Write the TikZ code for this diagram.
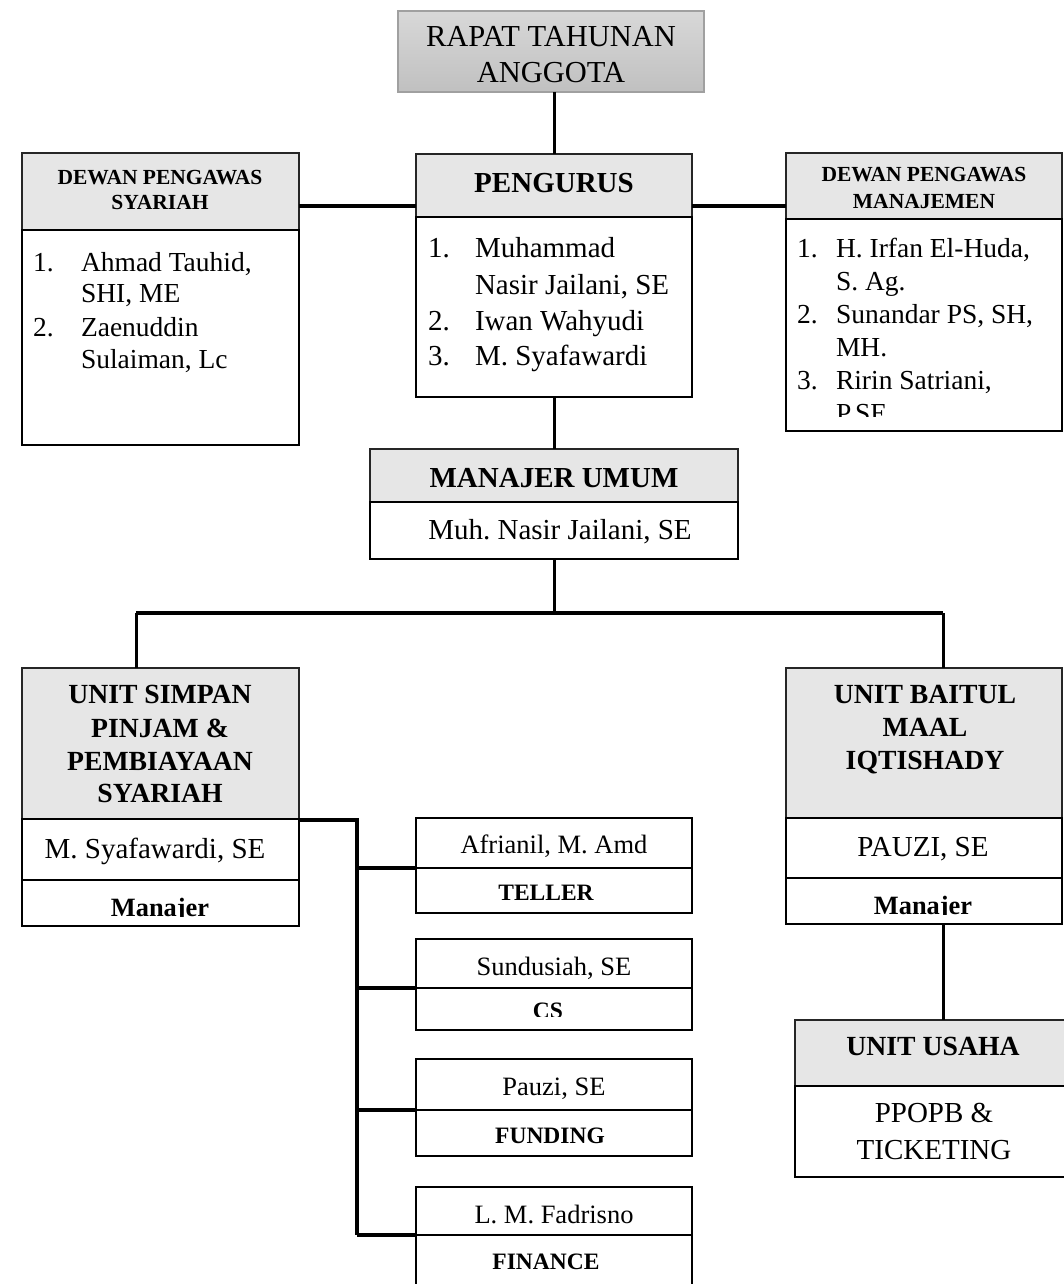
\documentclass[tikz,border=0pt]{standalone}
\usepackage{fontspec}
\setmainfont{Liberation Serif}
\definecolor{hdrgray}{RGB}{230,230,230}
\definecolor{topgray}{RGB}{216,216,216}
\definecolor{botgray}{RGB}{192,192,192}
\definecolor{rimgray}{RGB}{160,160,160}
\tikzset{
  hdr/.style={draw=black!85, line width=1.8pt, fill=hdrgray, anchor=north west, inner sep=0pt, outer sep=0pt},
  bodybox/.style={draw=black, line width=2.6pt, fill=white, anchor=north west, inner sep=0pt, outer sep=0pt},
  topbox/.style={draw=rimgray, line width=1.5pt, top color=topgray, bottom color=botgray, anchor=north west, inner sep=0pt, outer sep=0pt},
  conn/.style={line width=3pt},
  wideconn/.style={line width=4.5pt},
  midconn/.style={line width=3.6pt},
  tx/.style={inner sep=0pt, outer sep=0pt, anchor=base},
  txw/.style={inner sep=0pt, outer sep=0pt, anchor=base west},
  f30/.style={font=\fontsize{30.5}{36}\selectfont},
  f29/.style={font=\fontsize{29}{35}\selectfont},
  b29/.style={font=\bfseries\fontsize{29}{35}\selectfont},
  b28/.style={font=\bfseries\fontsize{27.7}{33}\selectfont},
  f28/.style={font=\fontsize{27.5}{33}\selectfont},
  b21/.style={font=\bfseries\fontsize{21.5}{25}\selectfont},
  f26/.style={font=\fontsize{26.5}{32}\selectfont},
  b23/.style={font=\bfseries\fontsize{23.5}{28}\selectfont},
  b26/.style={font=\bfseries\fontsize{26.4}{31}\selectfont},
}
\begin{document}
\frenchspacing
\begin{tikzpicture}[x=1pt,y=-1pt]
\useasboundingbox (0,0) rectangle (1064,1284);

% ---------- boxes ----------
\node[topbox, minimum width=306pt, minimum height=81pt] (rapat) at (398,11) {};

\node[hdr, minimum width=277pt, minimum height=77pt] (dpsh) at (22,153) {};
\node[bodybox, minimum width=277pt, minimum height=215pt] (dpsb) at (22,230) {};

\node[hdr, minimum width=276pt, minimum height=63pt] (pengh) at (416,154) {};
\node[bodybox, minimum width=276pt, minimum height=180pt] (pengb) at (416,217) {};

\node[hdr, minimum width=276pt, minimum height=66pt] (dpmh) at (786,153) {};
\node[bodybox, minimum width=276pt, minimum height=212pt] (dpmb) at (786,219) {};

\node[hdr, minimum width=368pt, minimum height=53pt] (mgrh) at (370,449) {};
\node[bodybox, minimum width=368pt, minimum height=57pt] (mgrb) at (370,502) {};

\node[hdr, minimum width=277pt, minimum height=151pt] (usph) at (22,668) {};
\node[bodybox, minimum width=277pt, minimum height=61pt] (uspn) at (22,819) {};
\node[bodybox, minimum width=277pt, minimum height=46pt] (uspm) at (22,880) {};

\node[hdr, minimum width=276pt, minimum height=150pt] (ubmh) at (786,668) {};
\node[bodybox, minimum width=276pt, minimum height=60pt] (ubmn) at (786,818) {};
\node[bodybox, minimum width=276pt, minimum height=46pt] (ubmm) at (786,878) {};

\node[hdr, minimum width=273pt, minimum height=66pt] (uuh) at (795,1020) {};
\node[bodybox, minimum width=273pt, minimum height=91pt] (uub) at (795,1086) {};

\node[bodybox, minimum width=276pt, minimum height=50pt] (t1n) at (416,818) {};
\node[bodybox, minimum width=276pt, minimum height=45pt] (t1r) at (416,868) {};
\node[bodybox, minimum width=276pt, minimum height=49pt] (t2n) at (416,939) {};
\node[bodybox, minimum width=276pt, minimum height=42pt] (t2r) at (416,988) {};
\node[bodybox, minimum width=276pt, minimum height=51pt] (t3n) at (416,1059) {};
\node[bodybox, minimum width=276pt, minimum height=46pt] (t3r) at (416,1110) {};
\node[bodybox, minimum width=276pt, minimum height=48pt] (t4n) at (416,1187) {};
\node[bodybox, minimum width=276pt, minimum height=60pt] (t4r) at (416,1235) {};

% ---------- connectors ----------
\coordinate (ylink) at (0,206);
\coordinate (jn) at (554,613);
\coordinate (hl) at (136,613);
\coordinate (hr) at (943,613);
\coordinate (uspout) at (357,820);
\coordinate (tr1) at (357,868);
\coordinate (tr2) at (357,988);
\coordinate (tr3) at (357,1110);
\coordinate (tr4) at (357,1235);

\draw[conn] (pengh.north |- rapat.south) -- (pengh.north);
\draw[wideconn] (dpsh.east |- ylink) -- (pengh.west |- ylink);
\draw[wideconn] (pengh.east |- ylink) -- (dpmh.west |- ylink);
\draw[conn] (pengb.south) -- (mgrh.north);
\draw[conn] (mgrb.south) -- (jn);
\draw[midconn] (hl) -- (hr);
\draw[conn] (hl) -- (hl |- usph.north);
\draw[conn] (hr) -- (hr |- ubmh.north);
\draw[conn] (ubmm.south -| hr) -- (uuh.north -| hr);
\draw[midconn] (uspn.north east |- uspout) -- (uspout) -- (tr4);
\draw[midconn] (tr1) -- (t1r.north west);
\draw[midconn] (tr2) -- (t2r.north west);
\draw[midconn] (tr3) -- (t3r.north west);
\draw[midconn] (tr4) -- (t4r.north west);

% ---------- texts ----------
\node[tx, f30] (rt1) at (551,47) {RAPAT TAHUNAN};
\node[tx, f30] (rt2) at (551,83) {ANGGOTA};

\node[tx, b21] (dps1) at (160,185) {DEWAN PENGAWAS};
\node[tx, b21] (dps2) at (160,209) {SYARIAH};
\node[txw, f28] (dpsn1) at (33,271) {1.};
\node[txw, f28] (dpsi1) at (81,271) {Ahmad Tauhid,};
\node[txw, f28] (dpsi1b) at (81,302) {SHI, ME};
\node[txw, f28] (dpsn2) at (33,336) {2.};
\node[txw, f28] (dpsi2) at (81,336) {Zaenuddin};
\node[txw, f28] (dpsi2b) at (81,368) {Sulaiman, Lc};

\node[tx, b29] (pg) at (554,193) {PENGURUS};
\node[txw, f29] (pgn1) at (428,257) {1.};
\node[txw, f29] (pgi1) at (475,257) {Muhammad};
\node[txw, f29] (pgi1b) at (475,294) {Nasir Jailani, SE};
\node[txw, f29] (pgn2) at (428,330) {2.};
\node[txw, f29] (pgi2) at (475,330) {Iwan Wahyudi};
\node[txw, f29] (pgn3) at (428,365) {3.};
\node[txw, f29] (pgi3) at (475,365) {M. Syafawardi};

\node[tx, b21] (dpm1) at (924,182) {DEWAN PENGAWAS};
\begin{scope}
\clip (786,153) rectangle (1062,209);
\node[tx, b21] (dpm2) at (924,208) {MANAJEMEN};
\end{scope}
\begin{scope}
\clip (786,219) rectangle (1062,416);
\node[txw, f28] (dpmn1) at (797,257) {1.};
\node[txw, f28] (dpmi1) at (836,257) {H. Irfan El-Huda,};
\node[txw, f28] (dpmi1b) at (836,290) {S. Ag.};
\node[txw, f28] (dpmn2) at (797,323) {2.};
\node[txw, f28] (dpmi2) at (836,323) {Sunandar PS, SH,};
\node[txw, f28] (dpmi2b) at (836,356) {MH.};
\node[txw, f28] (dpmn3) at (797,389) {3.};
\node[txw, f28] (dpmi3) at (836,389) {Ririn Satriani,};
\node[txw, f28] (dpmi3b) at (836,422) {P.SE};
\end{scope}

\node[tx, b29] (mg1) at (554,487) {MANAJER UMUM};
\node[tx, f29] (mg2) at (560,539) {Muh. Nasir Jailani, SE};

\node[tx, b28] (us1) at (160,703) {UNIT SIMPAN};
\node[tx, b28] (us2) at (160,737) {PINJAM \&};
\node[tx, b28] (us3) at (160,770) {PEMBIAYAAN};
\node[tx, b28] (us4) at (160,802) {SYARIAH};
\node[tx, f29] (usn) at (155,858) {M. Syafawardi, SE};
\begin{scope}
\clip (22,880) rectangle (299,916.3);
\node[tx, b26] (usm) at (160,916) {Manajer};
\end{scope}

\node[tx, b28] (ub1) at (925,703) {UNIT BAITUL};
\node[tx, b28] (ub2) at (925,736) {MAAL};
\node[tx, b28] (ub3) at (925,769) {IQTISHADY};
\node[tx, f29] (ubn) at (923,856) {PAUZI, SE};
\begin{scope}
\clip (786,878) rectangle (1062,914.3);
\node[tx, b26] (ubm) at (923,914) {Manajer};
\end{scope}

\node[tx, b28] (uu1) at (933,1055) {UNIT USAHA};
\node[tx, f29] (uu2) at (934,1122) {PPOPB \&};
\node[tx, f29] (uu3) at (934,1159) {TICKETING};

\node[tx, f26] (t1a) at (554,853) {Afrianil, M. Amd};
\node[tx, b23] (t1b) at (546,900) {TELLER};
\node[tx, f26] (t2a) at (554,975) {Sundusiah, SE};
\begin{scope}
\clip (416,988) rectangle (692,1016.5);
\node[tx, b23] (t2b) at (548,1018) {CS};
\end{scope}
\node[tx, f26] (t3a) at (554,1095) {Pauzi, SE};
\node[tx, b23] (t3b) at (550,1143) {FUNDING};
\node[tx, f26] (t4a) at (554,1223) {L. M. Fadrisno};
\node[tx, b23] (t4b) at (546,1269) {FINANCE};
\end{tikzpicture}
\end{document}
